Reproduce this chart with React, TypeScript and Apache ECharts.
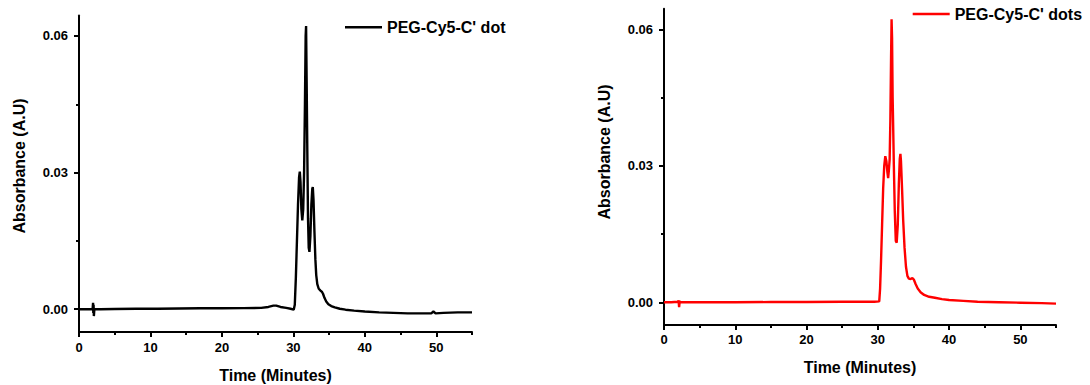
import React, { useEffect, useRef } from "react";
import * as echarts from "echarts";

// ---------- data ----------
const leftTime = [
  0, 1, 1.9, 1.97, 2.0, 2.04, 2.08, 2.15, 3, 5, 8, 11, 14, 17, 20, 23, 25.5, 26.5, 27.2, 27.6, 28.2, 29,
  29.6, 30.05, 30.2, 30.35, 30.5, 30.65, 30.8, 30.9, 31.0, 31.12, 31.25, 31.38, 31.5, 31.62, 31.72, 31.78,
  31.86, 31.95, 32.05, 32.15, 32.25, 32.38, 32.52, 32.65, 32.72, 32.82, 32.95, 33.08, 33.2, 33.35, 33.55,
  33.8, 34.0, 34.15, 34.35, 34.6, 34.9, 35.3, 35.8, 36.5, 37.3, 38.5, 40, 42, 44, 46, 48, 49.3, 49.6, 49.9,
  51, 53, 55,
];
const leftAbs = [
  0, 0, 0, 0.0014, -0.0008, 0.001, -0.0015, 0, 0, 0.00005, 0.0001, 0.0001, 0.00015, 0.0002, 0.0002, 0.00025,
  0.0003, 0.0005, 0.0008, 0.0008, 0.0005, 0.0003, 0.0001, -0.0001, 0.001, 0.007, 0.015, 0.023, 0.029, 0.0302,
  0.028, 0.022, 0.0195, 0.022, 0.03, 0.045, 0.06, 0.0622, 0.05, 0.035, 0.02, 0.0135, 0.0126, 0.016, 0.023,
  0.0265, 0.0268, 0.024, 0.017, 0.011, 0.0075, 0.0055, 0.0045, 0.0041, 0.0038, 0.0034, 0.0025, 0.0017, 0.0011,
  0.0007, 0.0004, 0.0001, -0.0001, -0.0003, -0.0005, -0.0007, -0.0008, -0.0009, -0.0009, -0.0009, -0.0005,
  -0.0009, -0.0008, -0.0007, -0.0007,
];
const rightTime = [
  0, 1, 1.95, 2.05, 2.12, 2.2, 2.3, 3, 6, 10, 15, 20, 25, 28, 29.5, 30.2, 30.32, 30.45, 30.6, 30.75, 30.9,
  31.05, 31.2, 31.35, 31.45, 31.55, 31.66, 31.76, 31.86, 31.93, 32.0, 32.08, 32.15, 32.25, 32.38, 32.52, 32.65,
  32.8, 32.95, 33.08, 33.17, 33.25, 33.4, 33.56, 33.75, 33.95, 34.15, 34.35, 34.6, 34.85, 35.05, 35.3, 35.6,
  36.0, 36.5, 37.2, 38, 39, 40, 42, 44, 47, 50, 53, 55,
];
const rightAbs = [
  0, 0, 0.0001, 0.0004, -0.0011, 0.0002, 0, 0, 0, 0, 0.00005, 0.00005, 0.0001, 0.0001, 0.0001, 0.0002, 0.003,
  0.009, 0.017, 0.025, 0.03, 0.0321, 0.031, 0.0285, 0.0273, 0.029, 0.0314, 0.04, 0.054, 0.0622, 0.058, 0.045,
  0.039, 0.03, 0.02, 0.0135, 0.0131, 0.017, 0.026, 0.0315, 0.0326, 0.031, 0.025, 0.018, 0.012, 0.0078, 0.0058,
  0.0052, 0.0051, 0.0053, 0.005, 0.004, 0.003, 0.0022, 0.0016, 0.0012, 0.001, 0.0007, 0.0005, 0.0003, 0.0001,
  0, -0.0001, -0.0002, -0.0003,
];

const xLabelValues = [0, 10, 20, 30, 40, 50];
const xMinorValues = [5, 15, 25, 35, 45, 55];
const yLabelValues = [0, 0.03, 0.06];
const yMinorValues = [0.015, 0.045];
const leftName = "PEG-Cy5-C' dot";
const rightName = "PEG-Cy5-C' dots";
const xTitle = "Time (Minutes)";
const yTitle = "Absorbance (A.U)";

const FONT = "'Liberation Sans', Arial, Helvetica, sans-serif";
const X_MIN = 0;
const X_MAX = 55;
const Y_MIN = -0.005;
const Y_MAX = 0.0645;

function mainX(gridIndex: number, margin: number) {
  return {
    type: "value",
    gridIndex,
    min: X_MIN,
    max: X_MAX,
    position: "bottom",
    axisLine: { show: true, onZero: false, lineStyle: { color: "#000", width: 2 } },
    axisTick: { show: true, customValues: xLabelValues, length: 5, lineStyle: { color: "#000", width: 2 } },
    axisLabel: {
      customValues: xLabelValues,
      margin,
      color: "#000",
      fontWeight: "bold",
      fontSize: 13,
      fontFamily: FONT,
      formatter: (v: number) => String(v),
    },
    splitLine: { show: false },
  };
}
function minorX(gridIndex: number) {
  return {
    type: "value",
    gridIndex,
    min: X_MIN,
    max: X_MAX,
    position: "bottom",
    axisLine: { show: false, onZero: false },
    axisTick: { show: true, customValues: xMinorValues, length: 3, lineStyle: { color: "#000", width: 2 } },
    axisLabel: { show: false },
    splitLine: { show: false },
  };
}
function mainY(gridIndex: number) {
  return {
    type: "value",
    gridIndex,
    min: Y_MIN,
    max: Y_MAX,
    position: "left",
    axisLine: { show: true, onZero: false, lineStyle: { color: "#000", width: 2 } },
    axisTick: { show: true, customValues: yLabelValues, length: 5, lineStyle: { color: "#000", width: 2 } },
    axisLabel: {
      customValues: yLabelValues,
      margin: 11,
      color: "#000",
      fontWeight: "bold",
      fontSize: 13,
      fontFamily: FONT,
      formatter: (v: number) => v.toFixed(2),
    },
    splitLine: { show: false },
  };
}
function minorY(gridIndex: number) {
  return {
    type: "value",
    gridIndex,
    min: Y_MIN,
    max: Y_MAX,
    position: "left",
    axisLine: { show: false, onZero: false },
    axisTick: { show: true, customValues: yMinorValues, length: 3, lineStyle: { color: "#000", width: 2 } },
    axisLabel: { show: false },
    splitLine: { show: false },
  };
}

function titleText(text: string, x: number, y: number, rotated: boolean) {
  return {
    type: "text",
    x,
    y,
    rotation: rotated ? Math.PI / 2 : 0,
    style: {
      text,
      fontSize: 16,
      fontWeight: "bold",
      fontFamily: FONT,
      fill: "#000",
      align: "center",
      verticalAlign: "middle",
    },
  };
}

function legendFor(name: string, left: number, top: number) {
  return {
    data: [name],
    left,
    top,
    padding: 0,
    icon: "rect",
    itemWidth: 37,
    itemHeight: 2.4,
    itemGap: 0,
    selectedMode: false,
    textStyle: { fontSize: 16, fontWeight: "bold", color: "#000", fontFamily: FONT, lineHeight: 16 },
  };
}

export default function App() {
  const ref = useRef<HTMLDivElement>(null);
  useEffect(() => {
    document.body.style.margin = "0";
    if (!ref.current) return;
    const chart = echarts.init(ref.current, undefined, { renderer: "svg" });
    const option = {
      animation: false,
      backgroundColor: "#fff",
      grid: [
        { left: 79, top: 15.5, width: 393, height: 316.5, containLabel: false },
        { left: 664, top: 8.8, width: 392, height: 316.2, containLabel: false },
      ],
      xAxis: [mainX(0, 9), minorX(0), mainX(1, 8), minorX(1)],
      yAxis: [mainY(0), minorY(0), mainY(1), minorY(1)],
      legend: [legendFor(leftName, 345, 19.3), legendFor(rightName, 912.7, 6)],
      graphic: [
        titleText(yTitle, 19, 166, true),
        titleText(yTitle, 604, 152, true),
        titleText(xTitle, 275.5, 375, false),
        titleText(xTitle, 860, 367, false),
      ],
      series: [
        {
          type: "line",
          name: leftName,
          xAxisIndex: 0,
          yAxisIndex: 0,
          data: leftTime.map((t, i) => [t, leftAbs[i]]),
          symbol: "none",
          showSymbol: false,
          lineStyle: { color: "#000", width: 2.4 },
          itemStyle: { color: "#000" },
        },
        {
          type: "line",
          name: rightName,
          xAxisIndex: 2,
          yAxisIndex: 2,
          data: rightTime.map((t, i) => [t, rightAbs[i]]),
          symbol: "none",
          showSymbol: false,
          lineStyle: { color: "#ff0000", width: 2.4 },
          itemStyle: { color: "#ff0000" },
        },
      ],
    };
    chart.setOption(option as any);
    return () => chart.dispose();
  }, []);
  return <div ref={ref} style={{ width: 1090, height: 385 }} />;
}
